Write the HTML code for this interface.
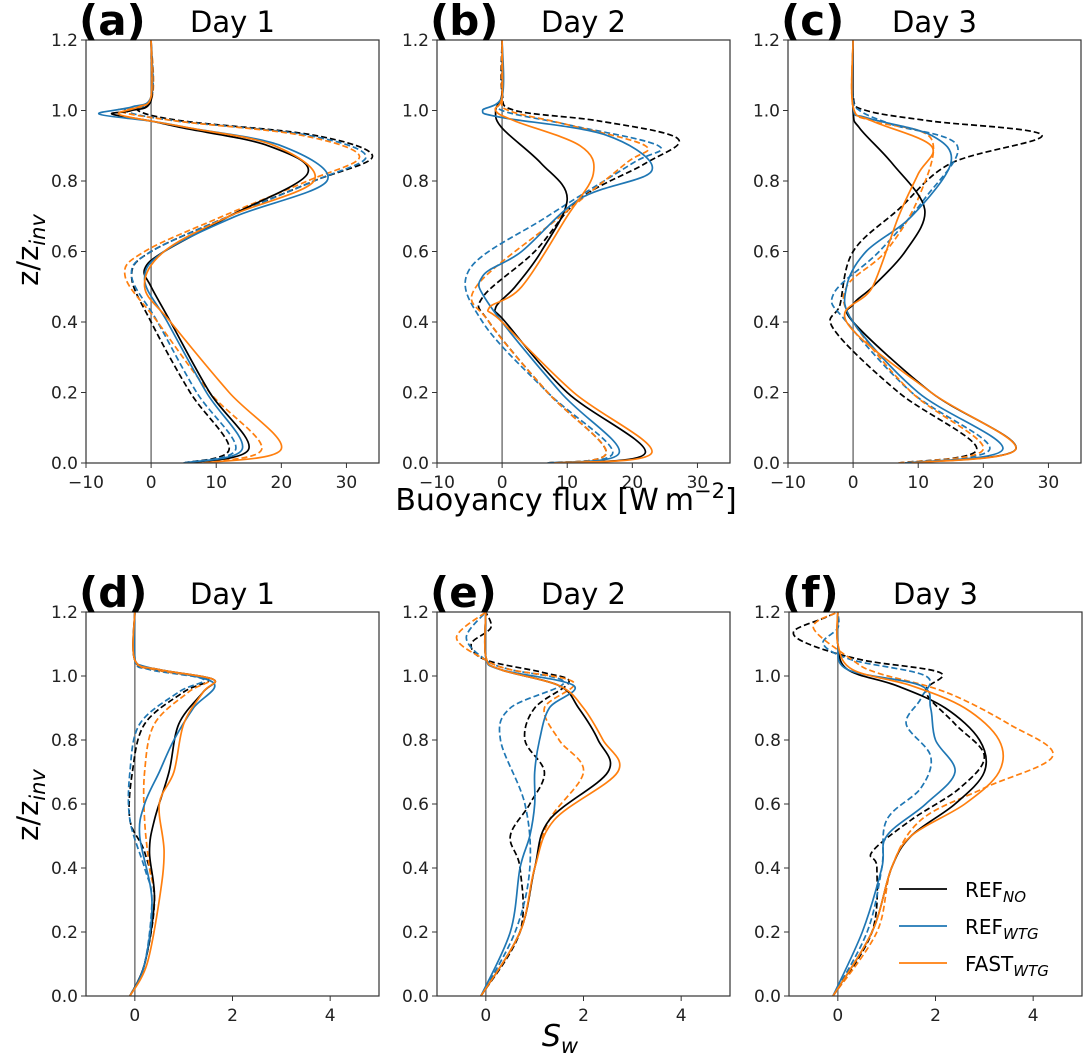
<!DOCTYPE html>
<html><head><meta charset="utf-8"><style>
html,body{margin:0;padding:0;background:#fff}
svg{display:block;font-family:"DejaVu Sans","Liberation Sans",sans-serif}
</style></head><body>
<svg id="chart" width="1091" height="1062" viewBox="0 0 1091 1062" xmlns="http://www.w3.org/2000/svg"></svg>
<script>
// ---- data: each series is [z, value] pairs ----
const aRefNo   = [[0,5.5],[0.04,15],[0.2,9],[0.4,3],[0.5,0],[0.55,-1],[0.6,2],[0.7,12],[0.82,24],[0.9,18],[0.95,5],[0.97,0],[0.99,-6],[1.0,-3],[1.03,0],[1.2,0]];
const aRefWtg  = [[0,5],[0.04,14],[0.2,8.5],[0.4,2.5],[0.52,-1],[0.6,2],[0.7,13],[0.8,27],[0.9,20],[0.95,6],[0.97,0],[0.99,-8],[1.01,-3],[1.04,0],[1.2,0]];
const aFastWtg = [[0,8],[0.04,20],[0.2,12],[0.4,3],[0.5,-1],[0.6,2],[0.7,12],[0.8,25],[0.9,19],[0.95,6],[0.97,0],[0.99,-5],[1.01,-2],[1.04,0],[1.2,0]];
const aRefNoD  = [[0,5],[0.04,12],[0.2,6],[0.4,0],[0.53,-3],[0.6,0],[0.7,12],[0.8,25],[0.87,34],[0.93,25],[0.97,5],[1.0,-2],[1.03,0],[1.2,0]];
const aRefWtgD = [[0,5],[0.04,13],[0.2,7],[0.4,1],[0.53,-3],[0.6,0],[0.7,12],[0.8,25],[0.87,33],[0.93,24],[0.97,4],[1.0,-4],[1.03,0],[1.2,0]];
const aFastWtgD= [[0,7],[0.04,17],[0.2,9],[0.4,1],[0.53,-4],[0.6,-1],[0.7,11],[0.8,24],[0.87,32],[0.93,23],[0.97,4],[1.0,-5],[1.03,0],[1.2,0]];

const bRefNo   = [[0,8],[0.03,22],[0.2,10],[0.4,0.5],[0.44,-1],[0.5,2],[0.6,6],[0.75,10],[0.85,6],[0.95,0],[1.0,-1],[1.05,0],[1.2,0]];
const bRefWtg  = [[0,7],[0.03,18],[0.2,9],[0.45,-2],[0.53,-3],[0.6,3],[0.75,12],[0.83,23],[0.93,16],[0.98,0],[1.0,-3],[1.04,0],[1.2,0]];
const bFastWtg = [[0,8],[0.03,23],[0.2,11],[0.4,0],[0.44,-2],[0.5,3],[0.7,10],[0.82,14],[0.9,12],[0.97,2],[1.0,-1],[1.04,0],[1.2,0]];
const bRefNoD  = [[0,7],[0.03,16],[0.2,7],[0.4,-2],[0.47,-3],[0.6,5],[0.75,12],[0.85,22],[0.92,27],[0.97,15],[1.0,2],[1.05,0],[1.2,0]];
const bRefWtgD = [[0,7],[0.03,17],[0.2,7],[0.4,-3],[0.55,-5],[0.7,7],[0.85,20],[0.9,24],[0.96,10],[1.0,0],[1.04,0],[1.2,0]];
const bFastWtgD= [[0,7],[0.03,16],[0.2,7],[0.4,-2],[0.5,-4],[0.7,9],[0.85,19],[0.9,22],[0.96,10],[1.0,1],[1.04,0],[1.2,0]];

const cRefNo   = [[0,8],[0.04,25],[0.2,12],[0.4,0],[0.45,0],[0.5,3],[0.6,8],[0.72,11],[0.85,6],[0.95,1],[1.0,0],[1.2,0]];
const cRefWtg  = [[0,8],[0.04,23],[0.2,10],[0.4,0],[0.5,-1],[0.6,2],[0.7,9],[0.85,15],[0.93,12],[0.98,2],[1.01,0],[1.2,0]];
const cFastWtg = [[0,9],[0.04,25],[0.2,12],[0.4,-1],[0.5,3],[0.7,7],[0.82,10],[0.9,12],[0.97,3],[1.01,0],[1.2,0]];
const cRefNoD  = [[0,7],[0.04,19],[0.2,7],[0.38,-3],[0.45,-2],[0.6,0],[0.72,7],[0.85,15],[0.93,29],[0.97,12],[1.0,2],[1.04,0],[1.2,0]];
const cRefWtgD = [[0,7],[0.04,21],[0.2,9],[0.4,-1],[0.48,-3],[0.6,4],[0.75,11],[0.9,16],[0.96,6],[1.0,1],[1.04,0],[1.2,0]];
const cFastWtgD= [[0,7],[0.04,20],[0.2,9],[0.4,0],[0.5,-1],[0.6,5],[0.75,10],[0.92,12],[0.97,3],[1.01,0],[1.2,0]];

const dRefNo   = [[0,-0.1],[0.1,0.2],[0.3,0.4],[0.45,0.3],[0.55,0.4],[0.7,0.7],[0.85,0.9],[0.95,1.4],[0.99,1.6],[1.02,0.5],[1.05,0],[1.2,0]];
const dRefWtg  = [[0,-0.1],[0.1,0.2],[0.3,0.35],[0.5,0.1],[0.6,0.2],[0.7,0.5],[0.8,0.8],[0.9,1.2],[0.98,1.6],[1.03,0.2],[1.06,0],[1.2,0]];
const dFastWtg = [[0,-0.1],[0.1,0.25],[0.3,0.5],[0.45,0.6],[0.6,0.5],[0.7,0.8],[0.85,1.0],[0.95,1.4],[0.99,1.6],[1.02,0.5],[1.05,0],[1.2,0]];
const dRefNoD  = [[0,-0.1],[0.1,0.2],[0.3,0.4],[0.45,0.2],[0.55,-0.1],[0.7,-0.05],[0.85,0.2],[0.95,1.0],[0.99,1.5],[1.02,0.4],[1.05,0],[1.2,0]];
const dRefWtgD = [[0,-0.1],[0.1,0.2],[0.3,0.35],[0.4,0.2],[0.55,-0.1],[0.7,-0.1],[0.85,0.1],[0.95,0.9],[0.99,1.4],[1.02,0.3],[1.05,0],[1.2,0]];
const dFastWtgD= [[0,-0.1],[0.1,0.2],[0.3,0.4],[0.4,0.3],[0.55,0.2],[0.7,0.2],[0.85,0.4],[0.95,1.1],[0.99,1.5],[1.02,0.4],[1.05,0],[1.2,0]];

const eRefNo   = [[0,-0.1],[0.2,0.7],[0.4,1.0],[0.55,1.3],[0.7,2.5],[0.8,2.3],[0.9,1.9],[0.97,1.5],[1.02,0.3],[1.06,0],[1.2,0]];
const eRefWtg  = [[0,-0.1],[0.2,0.5],[0.4,0.7],[0.5,0.9],[0.6,1.0],[0.7,1.0],[0.8,1.1],[0.9,1.3],[0.97,1.8],[1.02,0.3],[1.06,0],[1.2,0]];
const eFastWtg = [[0,-0.1],[0.2,0.7],[0.4,1.0],[0.55,1.4],[0.7,2.7],[0.8,2.4],[0.9,2.0],[0.97,1.5],[1.02,0.3],[1.06,0],[1.2,0]];
const eRefNoD  = [[0,-0.1],[0.2,0.7],[0.4,0.7],[0.5,0.5],[0.6,0.9],[0.7,1.2],[0.8,0.8],[0.9,1.0],[0.98,1.7],[1.01,1.2],[1.05,0],[1.1,-0.3],[1.15,0.1],[1.2,0]];
const eRefWtgD = [[0,-0.1],[0.2,0.6],[0.4,0.9],[0.6,0.8],[0.8,0.3],[0.9,0.5],[0.98,1.6],[1.02,0.5],[1.05,0],[1.12,-0.4],[1.2,0]];
const eFastWtgD= [[0,-0.1],[0.2,0.7],[0.4,1.0],[0.55,1.3],[0.7,2.0],[0.8,1.5],[0.9,1.2],[0.98,1.8],[1.02,0.5],[1.05,0],[1.12,-0.6],[1.2,0]];

const fRefNo   = [[0,-0.1],[0.2,0.7],[0.4,1.1],[0.5,1.5],[0.6,2.4],[0.7,3.0],[0.8,2.9],[0.9,2.2],[0.97,1.2],[1.02,0.2],[1.1,0],[1.2,0]];
const fRefWtg  = [[0,-0.1],[0.2,0.5],[0.4,0.9],[0.5,1.0],[0.6,1.8],[0.7,2.4],[0.8,2.0],[0.9,1.9],[0.97,1.7],[1.02,0.2],[1.1,0],[1.2,0]];
const fFastWtg = [[0,-0.1],[0.2,0.7],[0.4,1.1],[0.5,1.5],[0.6,2.6],[0.7,3.3],[0.8,3.3],[0.9,2.6],[0.97,1.5],[1.02,0.3],[1.1,0],[1.2,0]];
const fRefNoD  = [[0,-0.1],[0.2,0.7],[0.4,0.8],[0.45,0.7],[0.55,1.5],[0.65,2.5],[0.75,3.0],[0.85,2.4],[0.95,1.8],[1.01,2.1],[1.05,0.5],[1.1,-0.6],[1.14,-0.9],[1.18,-0.3],[1.2,0]];
const fRefWtgD = [[0,-0.1],[0.2,0.6],[0.4,0.9],[0.55,1.0],[0.65,1.7],[0.75,1.9],[0.85,1.4],[0.93,1.7],[1.0,1.8],[1.05,0.3],[1.1,-0.3],[1.15,0],[1.2,0]];
const fFastWtgD= [[0,-0.1],[0.2,0.8],[0.4,1.1],[0.55,1.7],[0.65,3.0],[0.75,4.4],[0.85,3.5],[0.95,2.2],[1.01,0.8],[1.05,0.3],[1.15,-0.5],[1.2,0]];

const topXTicks = [-10,0,10,20,30];
const botXTicks = [0,2,4];
const yTicks = [0.0,0.2,0.4,0.6,0.8,1.0,1.2];
const panelLetters = ['(a)','(b)','(c)','(d)','(e)','(f)'];
const dayTitles = ['Day 1','Day 2','Day 3','Day 1','Day 2','Day 3'];
const legendLabels = [['REF','NO'],['REF','WTG'],['FAST','WTG']];

const NS='http://www.w3.org/2000/svg';
const svg=document.getElementById('chart');
const BLACK='#000000',BLUE='#1f77b4',ORANGE='#ff7f0e';
function el(tag,attrs,parent,text){const e=document.createElementNS(NS,tag);for(const k in attrs)e.setAttribute(k,attrs[k]);if(text!==undefined)e.textContent=text;(parent||svg).appendChild(e);return e;}

const panels=[
 {L:86,T:40,B:463,xmin:-10,xmax:35,ticks:topXTicks,series:[aRefNoD,aRefWtgD,aFastWtgD,aRefNo,aRefWtg,aFastWtg]},
 {L:437,T:40,B:463,xmin:-10,xmax:35,ticks:topXTicks,series:[bRefNoD,bRefWtgD,bFastWtgD,bRefNo,bRefWtg,bFastWtg]},
 {L:788,T:40,B:463,xmin:-10,xmax:35,ticks:topXTicks,series:[cRefNoD,cRefWtgD,cFastWtgD,cRefNo,cRefWtg,cFastWtg]},
 {L:86,T:612,B:996,xmin:-1,xmax:5,ticks:botXTicks,series:[dRefNoD,dRefWtgD,dFastWtgD,dRefNo,dRefWtg,dFastWtg]},
 {L:437,T:612,B:996,xmin:-1,xmax:5,ticks:botXTicks,series:[eRefNoD,eRefWtgD,eFastWtgD,eRefNo,eRefWtg,eFastWtg]},
 {L:789,T:612,B:996,xmin:-1,xmax:5,ticks:botXTicks,series:[fRefNoD,fRefWtgD,fFastWtgD,fRefNo,fRefWtg,fFastWtg]}
];
const W=293;
const seriesStyle=[[BLACK,true,'ref-no-dashed'],[BLUE,true,'ref-wtg-dashed'],[ORANGE,true,'fast-wtg-dashed'],[BLACK,false,'ref-no'],[BLUE,false,'ref-wtg'],[ORANGE,false,'fast-wtg']];

function smoothPath(pts){
  let d='M'+pts[0][0].toFixed(1)+','+pts[0][1].toFixed(1);
  for(let i=0;i<pts.length-1;i++){
    const p0=pts[Math.max(0,i-1)],p1=pts[i],p2=pts[i+1],p3=pts[Math.min(pts.length-1,i+2)];
    const c1=[p1[0]+(p2[0]-p0[0])/6,p1[1]+(p2[1]-p0[1])/6];
    const c2=[p2[0]-(p3[0]-p1[0])/6,p2[1]-(p3[1]-p1[1])/6];
    d+=' C'+c1[0].toFixed(1)+','+c1[1].toFixed(1)+' '+c2[0].toFixed(1)+','+c2[1].toFixed(1)+' '+p2[0].toFixed(1)+','+p2[1].toFixed(1);
  }
  return d;
}

panels.forEach((p,i)=>{
  const g=el('g',{});
  
  
  const xs=v=>p.L+(v-p.xmin)/(p.xmax-p.xmin)*W;
  const ys=z=>p.B-(z/1.2)*(p.B-p.T);
  const clipId='clip'+i;
  const cp=el('clipPath',{id:clipId},g);el('rect',{x:p.L,y:p.T,width:W,height:p.B-p.T},cp);
  const zl=el('line',{x1:xs(0),x2:xs(0),y1:p.T,y2:p.B,stroke:'#808080','stroke-width':1.6},g);
  
  
  p.series.forEach((s,k)=>{
    const st=seriesStyle[k];
    const pts=s.map(q=>[xs(q[1]),ys(q[0])]);
    const path=el('path',{d:smoothPath(pts),fill:'none',stroke:st[0],'stroke-width':1.7,'clip-path':'url(#'+clipId+')'},g);
    if(st[1])path.setAttribute('stroke-dasharray','6,3');
    
    
  });
  const fr=el('rect',{x:p.L,y:p.T,width:W,height:p.B-p.T,fill:'none',stroke:'#333','stroke-width':1.2},g);
  
  
  yTicks.forEach(t=>{
    const y=ys(t);
    el('line',{x1:p.L-5,x2:p.L,y1:y,y2:y,stroke:'#333','stroke-width':1},g);
    const tx=el('text',{x:p.L-8,y:y+6,'text-anchor':'end','font-size':17,fill:'#222'},g,t.toFixed(1));
    
    
  });
  p.ticks.forEach(t=>{
    const x=xs(t);
    el('line',{x1:x,x2:x,y1:p.B,y2:p.B+5,stroke:'#333','stroke-width':1},g);
    const tx=el('text',{x:x,y:p.B+25,'text-anchor':'middle','font-size':17,fill:'#222'},g,t<0?'\u2212'+Math.abs(t):String(t));
    
    
  });
  const lt=el('text',{x:p.L-7,y:p.T-5,'font-size':42,'font-weight':'bold',fill:'#000'},g,panelLetters[i]);
  
  
  const tt=el('text',{x:p.L+W/2,y:p.T-8,'text-anchor':'middle','font-size':29,fill:'#000'},g,dayTitles[i]);
  
  
});

[[250],[805]].forEach(([cy])=>{
  const t=el('text',{x:0,y:0,transform:'translate(38,'+cy+') rotate(-90)','text-anchor':'middle','font-size':29,fill:'#000'});
  
  
  t.appendChild(document.createTextNode('z/z'));
  el('tspan',{'font-size':21,'font-style':'italic',dy:7},t,'inv');
});
const xt1=el('text',{x:566,y:510,'text-anchor':'middle','font-size':30,fill:'#000'},svg,'Buoyancy flux [W\u2009m');


el('tspan',{'font-size':21,dy:-12},xt1,'\u22122');
el('tspan',{dy:12},xt1,']');
const xt2=el('text',{x:560,y:1046,'text-anchor':'middle','font-size':30,'font-style':'italic',fill:'#000'},svg,'S');


el('tspan',{'font-size':21,dy:7},xt2,'w');

const leg=el('g',{});


[BLACK,BLUE,ORANGE].forEach((c,k)=>{
  const y=889+k*37;
  const ln=el('line',{x1:899,x2:947,y1:y,y2:y,stroke:c,'stroke-width':1.8},leg);
  
  
  const t=el('text',{x:965,y:y+8,'font-size':20,fill:'#000'},leg,legendLabels[k][0]);
  
  
  el('tspan',{'font-size':15,'font-style':'italic',dy:5},t,legendLabels[k][1]);
});
</script>
</body></html>
